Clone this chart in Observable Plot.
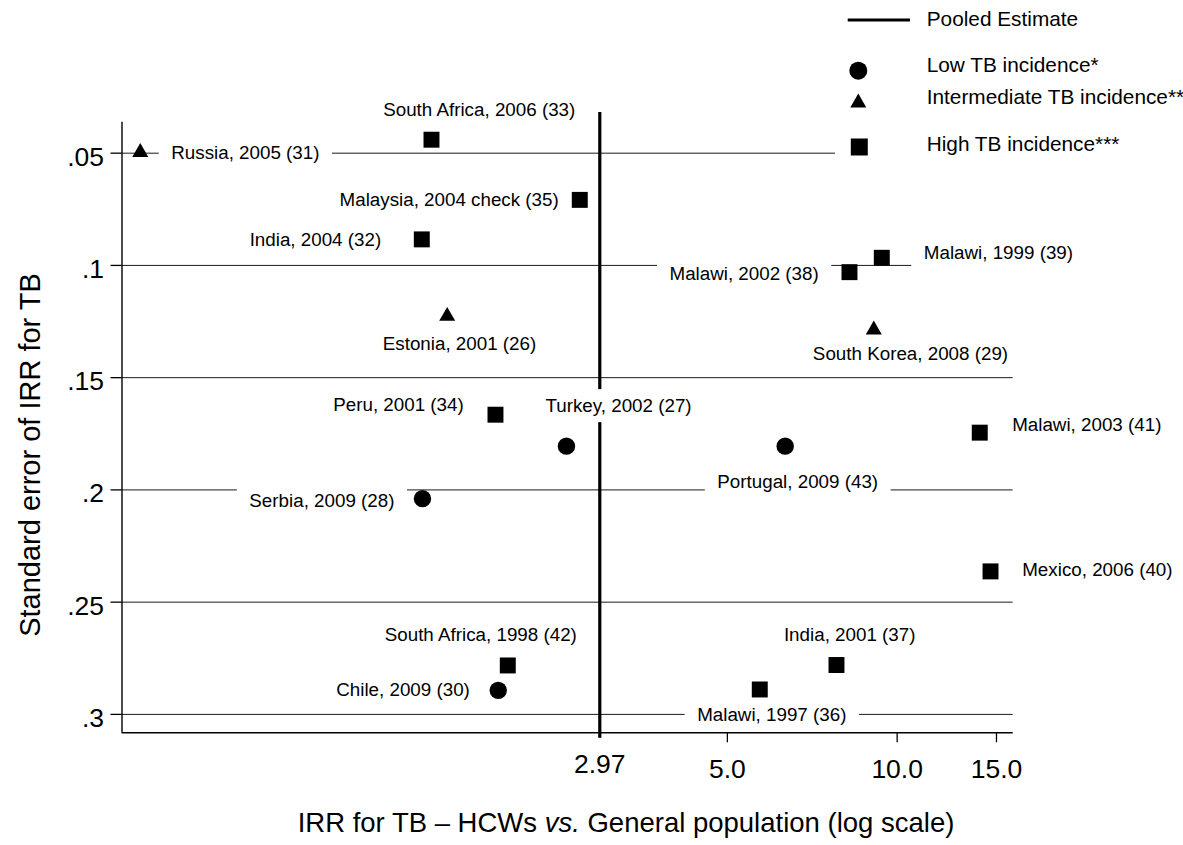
<!DOCTYPE html>
<html><head><meta charset="utf-8">
<script src="https://cdn.jsdelivr.net/npm/d3@7"></script>
<script src="https://cdn.jsdelivr.net/npm/@observablehq/plot@0.6"></script>
<style>
html,body{margin:0;padding:0;background:#fff;}
#chart{position:relative;width:1183px;height:845px;}
</style>
</head><body><div id="chart"></div>
<script>
// ---- data ----
const studies = ["Russia, 2005 (31)", "South Africa, 2006 (33)", "Malaysia, 2004 check (35)", "India, 2004 (32)",
  "Estonia, 2001 (26)", "Malawi, 2002 (38)", "Malawi, 1999 (39)", "South Korea, 2008 (29)", "Peru, 2001 (34)",
  "Turkey, 2002 (27)", "Serbia, 2009 (28)", "Portugal, 2009 (43)", "Malawi, 2003 (41)", "Mexico, 2006 (40)",
  "South Africa, 1998 (42)", "Chile, 2009 (30)", "India, 2001 (37)", "Malawi, 1997 (36)"];
const irr = [0.455, 1.494, 2.737, 1.436, 1.593, 8.231, 9.392, 9.090, 1.940, 2.592, 1.440, 6.331, 14.01, 14.64, 2.040, 1.962, 7.806, 5.707];
const se = [0.0496, 0.0440, 0.0708, 0.0884, 0.1226, 0.1030, 0.0966, 0.1287, 0.1665, 0.1805, 0.2039, 0.1805, 0.1745, 0.2363, 0.2782, 0.2893, 0.2780, 0.2889];
const incidence = ["Intermediate", "High", "High", "High", "Intermediate", "High", "High", "Intermediate", "High",
  "Low", "Low", "Low", "High", "High", "High", "Low", "High", "High"];
const categories = ["Low", "Intermediate", "High"];
const legendLabels = ["Low TB incidence*", "Intermediate TB incidence**", "High TB incidence***"];
const pooledEstimate = 2.97;
const pooledLabel = "Pooled Estimate";
const xTicks = [2.97, 5, 10, 15];
const xTickLabels = ["2.97", "5.0", "10.0", "15.0"];
const yTicks = [0.05, 0.1, 0.15, 0.2, 0.25, 0.3];
const yTickLabels = [".05", ".1", ".15", ".2", ".25", ".3"];
const xDomain = [0.4223, 16.06];
const yDomain = [0.0362, 0.3082];
const pooledLineTop = 0.0319;
const xTitleA = "IRR for TB \u2013 HCWs ", xTitleB = "vs.", xTitleC = " General population (log scale)";
const yTitle = "Standard error of IRR for TB";

// ---- styles ----
const FONT = "'Liberation Sans', Arial, Helvetica, sans-serif";
const symbolOf = {Low: "circle", Intermediate: "triangle", High: "square"};
const radiusOf = {Low: 8.7, Intermediate: 5.95, High: 9.0};
// [textAnchor, dx, dy] of each study label relative to its marker
const labelPlacement = [
  ["start", 31, 1], ["start", -48.3, -29.6], ["end", -21, 0], ["end", -40.6, 0.3],
  ["middle", 12.3, 27.5], ["end", -30.7, 1.6], ["start", 42, -5], ["middle", 36.7, 24],
  ["end", -31.7, -10], ["start", -21, -40], ["end", -28, 2.7], ["middle", 12.5, 36],
  ["start", 32.4, -7.3], ["start", 31.7, -1], ["middle", -27, -30], ["end", -28.4, 0],
  ["middle", 13.2, -30.5], ["middle", 12, 25]
];

const data = studies.map((name, i) => ({name, irr: irr[i], se: se[i], incidence: incidence[i]}));

const labelMarks = data.map((d, i) => {
  const [anchor, dx, dy] = labelPlacement[i];
  return Plot.text([d], {x: "irr", y: "se", text: "name", textAnchor: anchor, dx, dy,
    lineAnchor: "middle", fontSize: 18.8, fill: "black"});
});
const dotMarks = categories.map(c => Plot.dot(data.filter(d => d.incidence === c), {
  x: "irr", y: "se", symbol: symbolOf[c], r: radiusOf[c], fill: "black", stroke: "none"}));

const svg = Plot.plot({
  width: 1183, height: 845,
  marginLeft: 121.5, marginRight: 170.3, marginTop: 121.7, marginBottom: 112.7,
  style: {fontFamily: FONT, color: "black", background: "white", overflow: "visible"},
  x: {type: "log", domain: xDomain, label: null},
  y: {domain: yDomain, reverse: true, label: null},
  marks: [
    Plot.ruleY(yTicks, {stroke: "#1a1a1a", strokeWidth: 1}),
    Plot.ruleX([xDomain[0]], {stroke: "black", strokeWidth: 1.4}),
    Plot.ruleY([yDomain[1]], {stroke: "black", strokeWidth: 1.4}),
    Plot.axisY(yTicks, {anchor: "left", tickSize: 11, strokeWidth: 1.3, tickFormat: () => "", label: null}),
    Plot.axisY(yTicks, {anchor: "left", tickSize: 0, tickPadding: 18, fontSize: 26.5,
      tickFormat: d => yTickLabels[yTicks.indexOf(d)], label: null, dy: 4}),
    Plot.axisX(xTicks.slice(1), {anchor: "bottom", tickSize: 10, tickPadding: 16.5, strokeWidth: 1.3, fontSize: 26.5,
      tickFormat: d => xTickLabels[xTicks.indexOf(d)], label: null}),
    Plot.axisX([pooledEstimate], {anchor: "bottom", tickSize: 5.5, tickPadding: 16, strokeWidth: 3.2, fontSize: 26.5,
      tickFormat: d => xTickLabels[xTicks.indexOf(d)], label: null}),
    Plot.ruleX([pooledEstimate], {y1: () => pooledLineTop, y2: () => yDomain[1], stroke: "black", strokeWidth: 3.2}),
    ...labelMarks,
    ...dotMarks
  ]
});

document.getElementById("chart").append(svg);
const s = d3.select(svg);

// white boxes behind study labels (they interrupt the grid lines)
s.selectAll('g[aria-label="text"] text').each(function() {
  const bb = this.getBBox();
  d3.select(this.parentNode).insert("rect", () => this)
    .attr("transform", this.getAttribute("transform"))
    .attr("x", bb.x - 12.5).attr("y", bb.y - 6)
    .attr("width", bb.width + 25).attr("height", bb.height + 12)
    .attr("fill", "white");
});

// axis titles
const xt = s.append("text").attr("x", 626).attr("y", 822).attr("dy", "0.35em")
  .attr("text-anchor", "middle").style("font-size", "27.5px").attr("fill", "black");
xt.append("tspan").text(xTitleA);
xt.append("tspan").style("font-style", "italic").text(xTitleB);
xt.append("tspan").text(xTitleC);
s.append("text").attr("transform", "translate(30,455) rotate(-90)").attr("dy", "0.35em")
  .attr("text-anchor", "middle").style("font-size", "29px").attr("fill", "black").text(yTitle);

// legend (drawn on top of the plot, white background)
const d3sym = {circle: d3.symbolCircle, triangle: d3.symbolTriangle, square: d3.symbolSquare};
const legendSize = {Low: Math.PI * 81, Intermediate: 110.8, High: 289};
const lg = s.append("g").attr("transform", "translate(835,0)").attr("text-anchor", "start");
lg.append("rect").attr("width", 348).attr("height", 162).attr("fill", "white");
lg.append("line").attr("x1", 12.7).attr("x2", 75).attr("y1", 20).attr("y2", 20)
  .attr("stroke", "black").attr("stroke-width", 3);
const legendTextY = [19, 65, 96.7, 143.3];
const legendSymY = [70.7, 102.8, 147];
const legendSymX = [23.3, 23.3, 24.3];
lg.append("text").attr("x", 91.7).attr("y", legendTextY[0]).attr("dy", "0.35em").attr("text-anchor", "start")
  .style("font-size", "20.8px").attr("fill", "black").text(pooledLabel);
categories.forEach((c, i) => {
  lg.append("path").attr("transform", `translate(${legendSymX[i]},${legendSymY[i]})`)
    .attr("d", d3.symbol(d3sym[symbolOf[c]], legendSize[c])()).attr("fill", "black");
  lg.append("text").attr("x", 91.7).attr("y", legendTextY[i + 1]).attr("dy", "0.35em").attr("text-anchor", "start")
    .style("font-size", "20.8px").attr("fill", "black").text(legendLabels[i]);
});
</script>
</body></html>
